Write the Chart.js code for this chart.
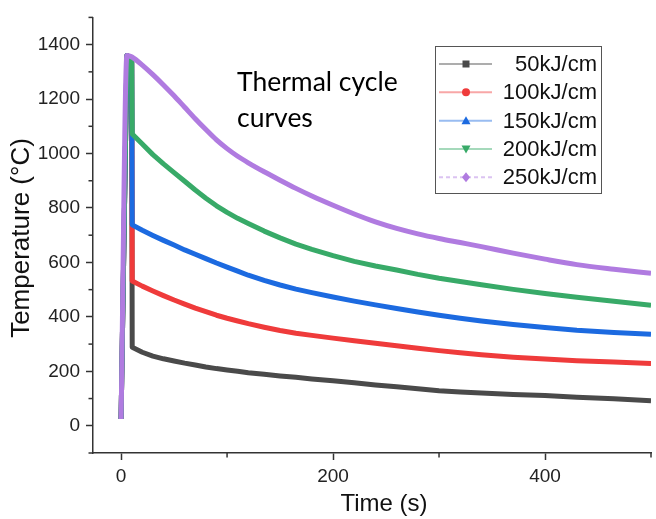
<!DOCTYPE html>
<html><head><meta charset="utf-8">
<script src="https://cdn.jsdelivr.net/npm/chart.js@4.4.1/dist/chart.umd.min.js"></script>
<style>html,body{margin:0;padding:0;background:#fff;overflow:hidden}#wrap{width:656px;height:519px;position:relative}</style>
</head><body><div id="wrap"><canvas id="c" width="656" height="519"></canvas></div>
<script>
// ---- data ----
const times   = [0, 5.5, 10, 10.5, 20, 30, 40, 50, 60, 70, 80, 90, 100, 110, 120, 135, 150, 165, 180, 200, 220, 240, 260, 280, 300, 320, 340, 370, 400, 430, 465, 500];
const seriesLabels = ['50kJ/cm', '100kJ/cm', '150kJ/cm', '200kJ/cm', '250kJ/cm'];
const temp50  = [25, 1360, 1335, 288, 270, 256, 246, 238, 230, 223, 216, 210, 205, 200, 195, 189, 183, 178, 172, 165, 158, 150, 143, 136, 129, 124, 120, 115, 111, 105, 99, 92];
const temp100 = [25, 1360, 1335, 532, 513, 495, 478, 462, 447, 432, 419, 406, 395, 385, 375, 362, 350, 340, 332, 322, 312, 303, 294, 285, 276, 268, 261, 252, 245, 239, 234, 229];
const temp150 = [25, 1360, 1335, 738, 718, 699, 681, 664, 646, 630, 614, 598, 583, 568, 553, 534, 517, 502, 489, 473, 458, 444, 431, 418, 406, 395, 385, 372, 361, 351, 343, 336];
const temp200 = [25, 1360, 1338, 1072, 1035, 996, 962, 930, 898, 866, 836, 808, 784, 762, 743, 715, 690, 667, 648, 625, 604, 587, 572, 556, 542, 530, 518, 501, 486, 472, 457, 443];
const temp250 = [25, 1360, 1355, 1354, 1325, 1290, 1252, 1212, 1170, 1128, 1088, 1050, 1018, 990, 966, 933, 902, 872, 844, 810, 778, 749, 725, 705, 688, 673, 658, 634, 612, 592, 575, 560];
const xTickValues = [0, 100, 200, 300, 400, 500];
const xTickLabels = [0, 200, 400];
const yTickValues = [-100, 0, 100, 200, 300, 400, 500, 600, 700, 800, 900, 1000, 1100, 1200, 1300, 1400, 1500];
const yTickLabels = [0, 200, 400, 600, 800, 1000, 1200, 1400];
const annotationLines = ['Thermal cycle', 'curves'];
const xTitle = 'Time (s)';
const yTitle = 'Temperature (°C)';

// ---- styles ----
const colors = ['#4a4a4a', '#ef3b3b', '#1c6ae0', '#38aa68', '#b07be0'];
const markers = ['square', 'circle', 'triangle', 'triangleDown', 'diamond'];
const series = [temp50, temp100, temp150, temp200, temp250];
const FONT = '"Liberation Sans", Arial, sans-serif';

const datasets = series.map((arr, i) => ({
  label: seriesLabels[i],
  data: times.map((t, j) => ({x: t, y: arr[j]})),
  borderColor: colors[i],
  backgroundColor: colors[i],
  borderWidth: 5,
  borderJoinStyle: 'round',
  pointRadius: 0,
  tension: 0,
  cubicInterpolationMode: i === 4 ? 'monotone' : 'default',
  fill: false,
  order: 5 - i
}));

function drawMarker(ctx, type, x, y, color) {
  ctx.save();
  ctx.fillStyle = color;
  ctx.beginPath();
  const r = 4;
  if (type === 'square') { ctx.rect(x - 3.5, y - 3.5, 7, 7); }
  else if (type === 'circle') { ctx.arc(x, y, 4, 0, Math.PI * 2); }
  else if (type === 'triangle') { ctx.moveTo(x, y - r - 0.5); ctx.lineTo(x + r + 0.5, y + r - 0.5); ctx.lineTo(x - r - 0.5, y + r - 0.5); ctx.closePath(); }
  else if (type === 'triangleDown') { ctx.moveTo(x, y + r + 0.5); ctx.lineTo(x + r + 0.5, y - r + 0.5); ctx.lineTo(x - r - 0.5, y - r + 0.5); ctx.closePath(); }
  else if (type === 'diamond') { ctx.moveTo(x, y - r - 1); ctx.lineTo(x + r, y); ctx.lineTo(x, y + r + 1); ctx.lineTo(x - r, y); ctx.closePath(); }
  ctx.fill();
  ctx.restore();
}

const extras = {
  id: 'extras',
  afterDraw(chart) {
    const ctx = chart.ctx;
    const xs = chart.scales.x, ys = chart.scales.y;
    const area = chart.chartArea;
    ctx.save();
    // minor ticks
    ctx.strokeStyle = '#333'; ctx.lineWidth = 1.5;
    xs.ticks.forEach(t => {
      if (!xTickLabels.includes(t.value)) {
        const px = xs.getPixelForValue(t.value);
        ctx.beginPath(); ctx.moveTo(px, area.bottom); ctx.lineTo(px, area.bottom + 4.5); ctx.stroke();
      }
    });
    ys.ticks.forEach(t => {
      if (!yTickLabels.includes(t.value)) {
        const py = ys.getPixelForValue(t.value);
        ctx.beginPath(); ctx.moveTo(area.left, py); ctx.lineTo(area.left - 4.5, py); ctx.stroke();
      }
    });
    // axis titles
    ctx.fillStyle = '#111';
    ctx.font = '24px ' + FONT;
    ctx.textAlign = 'center'; ctx.textBaseline = 'alphabetic';
    ctx.fillText(xTitle, 384, 511);
    ctx.save();
    ctx.translate(28.5, 238); ctx.rotate(-Math.PI / 2);
    ctx.font = '26px ' + FONT;
    ctx.fillText(yTitle, 0, 0);
    ctx.restore();
    // annotation
    ctx.font = '26.5px Lato, "Open Sans", sans-serif';
    ctx.textAlign = 'left';
    ctx.fillStyle = '#000';
    ctx.fillText(annotationLines[0], 237, 91);
    ctx.fillText(annotationLines[1], 237, 127);
    // legend
    ctx.strokeStyle = '#555'; ctx.lineWidth = 1;
    ctx.strokeRect(435.5, 46.5, 166, 147);
    const rowY = [64, 92.3, 120.7, 149, 177.3];
    chart.data.datasets.forEach((d, i) => {
      const y = rowY[i];
      ctx.save();
      ctx.globalAlpha = 0.45;
      ctx.strokeStyle = d.borderColor; ctx.lineWidth = 2;
      if (i === 4) ctx.setLineDash([4, 3]);
      ctx.beginPath(); ctx.moveTo(439, y); ctx.lineTo(492, y); ctx.stroke();
      ctx.restore();
      drawMarker(ctx, markers[i], 466, y, d.borderColor);
      ctx.fillStyle = '#111';
      ctx.font = '22px ' + FONT;
      ctx.textAlign = 'right'; ctx.textBaseline = 'middle';
      ctx.fillText(d.label, 597, y + 1);
    });
    ctx.restore();
  }
};

new Chart(document.getElementById('c'), {
  type: 'line',
  data: {datasets},
  options: {
    responsive: false,
    animation: false,
    events: [],
    layout: {padding: {left: 0, right: 3, top: 3, bottom: 0}},
    plugins: {legend: {display: false}, tooltip: {enabled: false}, title: {display: false}},
    scales: {
      x: {
        type: 'linear', min: -26.5, max: 500,
        afterBuildTicks: s => { s.ticks = xTickValues.map(v => ({value: v})); },
        afterFit: s => { s.height = 66; },
        ticks: {autoSkip: false, maxRotation: 0, padding: 5, color: '#222',
          font: {family: FONT, size: 19},
          callback: v => xTickLabels.includes(v) ? String(v) : ''},
        grid: {drawOnChartArea: false, tickLength: 7, tickWidth: 1.5,
          tickColor: c => (c.tick && xTickLabels.includes(c.tick.value)) ? '#333' : 'rgba(0,0,0,0)'},
        border: {color: '#333', width: 1.5}
      },
      y: {
        type: 'linear', min: -100, max: 1500,
        afterBuildTicks: s => { s.ticks = yTickValues.map(v => ({value: v})); },
        afterFit: s => { s.width = 93; },
        ticks: {autoSkip: false, padding: 6, color: '#222',
          font: {family: FONT, size: 19},
          callback: v => yTickLabels.includes(v) ? String(v) : ''},
        grid: {drawOnChartArea: false, tickLength: 7, tickWidth: 1.5,
          tickColor: c => (c.tick && yTickLabels.includes(c.tick.value)) ? '#333' : 'rgba(0,0,0,0)'},
        border: {color: '#333', width: 1.5}
      }
    }
  },
  plugins: [extras]
});
</script></body></html>
